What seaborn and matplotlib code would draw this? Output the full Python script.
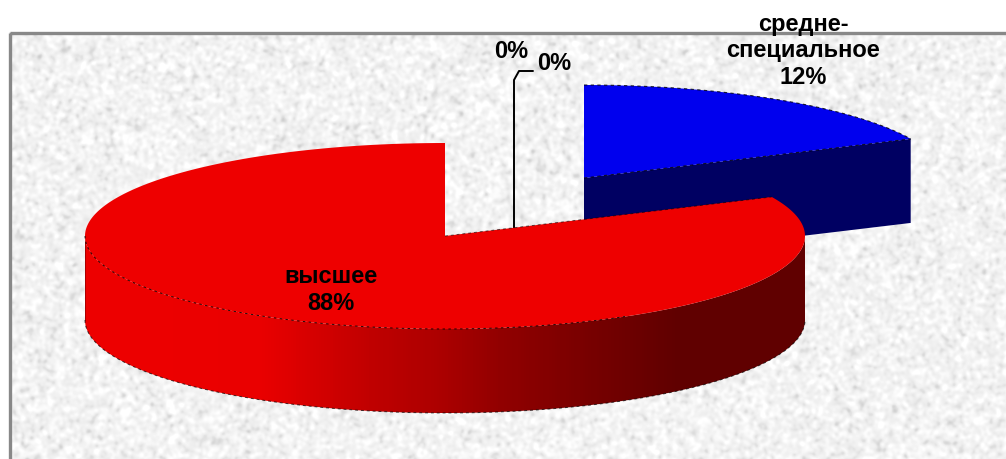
import numpy as np
import matplotlib
matplotlib.use("Agg")
import matplotlib.pyplot as plt
from matplotlib.colors import LinearSegmentedColormap
from matplotlib.patches import Polygon, Rectangle
import seaborn as sns

# Data
categories = ["высшее", "средне-\nспециальное", "", ""]
printed_percent = [88, 12, 0, 0]
# Angular share each slice occupies in the drawing (the source picture's geometry,
# which differs from its printed percentages)
drawn_share = [81.9, 18.1, 0, 0]

palette = sns.color_palette(["#EE0000", "#0000EE"])
side_blue = "#000062"

sns.set_theme(style="white")
plt.rcParams["font.family"] = ["Liberation Sans", "DejaVu Sans"]

W, H = 1006, 459
fig = plt.figure(figsize=(W / 100, H / 100), dpi=100, facecolor="white")
ax = fig.add_axes([0, 0, 1, 1])
ax.set_axis_off()

# Textured backdrop
rng = np.random.default_rng(7)
fx, fy = 9, 32
h, w = H - fy, W - fx
noise = rng.normal(size=(h, w))
ky = np.fft.fftfreq(h)[:, None]
kx = np.fft.rfftfreq(w)[None, :]
noise = np.fft.irfft2(np.fft.rfft2(noise) * np.exp(-(kx**2 + ky**2) * 2 * (np.pi * 1.7) ** 2), s=(h, w))
noise = noise / noise.std()
tex = np.clip(0.950 + 0.024 * noise - 0.02 * np.clip(-noise - 1.2, 0, None), 0.72, 1.0)
ax.imshow(tex, cmap="gray", vmin=0, vmax=1, extent=(fx, W, H, fy), interpolation="bilinear", zorder=0, aspect="auto")
ax.add_patch(Rectangle((fx + 1, fy + 1), W, H, fill=False, ec="#888888", lw=2.4, zorder=1))

RX, RY, DEPTH = 360, 93, 84
red_c = (445, 236)
blue_c = (584, 178)


def arc(center, a0, a1, n=400):
    t = np.radians(np.linspace(a0, a1, n))
    return center[0] + RX * np.cos(t), center[1] - RY * np.sin(t)


# Slice angles come from the shares, starting at 12 o'clock, counter-clockwise for red
red_sweep = drawn_share[0] / sum(drawn_share) * 360
blue_sweep = drawn_share[1] / sum(drawn_share) * 360
red_end = 90 + red_sweep
blue_end = 90 - blue_sweep

# Blue slice
bx, by = arc(blue_c, 90, blue_end)
ax.fill([blue_c[0], bx[-1], bx[-1], blue_c[0]],
        [blue_c[1], by[-1], by[-1] + DEPTH, blue_c[1] + DEPTH], color=side_blue, lw=0, zorder=2)
ax.fill(np.r_[blue_c[0], bx], np.r_[blue_c[1], by], color=palette[1], lw=0, zorder=3)
ax.plot(bx, by, color="black", lw=0.8, ls=(0, (3, 3)), alpha=0.8, zorder=3.1)
ax.plot([blue_c[0], bx[-1]], [blue_c[1], by[-1]], color="black", lw=0.8, ls=(0, (3, 3)), alpha=0.8, zorder=3.1)

# Leader line for the 0 % slices
ax.plot([514, 514, 519, 533], [228, 80, 71, 71], color="black", lw=1.4, zorder=2.5, solid_joinstyle="round")

# Red side wall with gradient
sx, sy = arc(red_c, 180, 360)
side = np.c_[np.r_[sx, sx[::-1]], np.r_[sy, sy[::-1] + DEPTH]]
stops = [(85, "#EE0000"), (260, "#EA0000"), (370, "#C00000"), (440, "#AC0000"),
         (500, "#920000"), (600, "#750000"), (680, "#600000"), (805, "#600000")]
cmap = LinearSegmentedColormap.from_list("wall", [((x - 85) / 720, c) for x, c in stops])
im = ax.imshow(np.linspace(0, 1, 720)[None, :], cmap=cmap, aspect="auto",
               extent=(85, 805, 425, 230), zorder=4)
im.set_clip_path(Polygon(side, closed=True, transform=ax.transData))
ox, oy = arc(red_c, 180, 360)
ax.plot(ox, oy + DEPTH, color="black", lw=0.7, ls=(0, (3, 3)), alpha=0.7, zorder=4.1)
ax.plot([red_c[0] - RX] * 2, [red_c[1], red_c[1] + DEPTH], color="black", lw=0.5, alpha=0.4, zorder=4.1)

# Red top
rx, ry = arc(red_c, 90, red_end)
ax.fill(np.r_[red_c[0], rx], np.r_[red_c[1], ry], color=palette[0], lw=0, zorder=5)
fx_, fy_ = arc(red_c, 180, 300)
ax.plot(fx_, fy_, color="black", lw=0.7, ls=(0, (2.5, 3.5)), alpha=0.85, zorder=5.1)
ax.plot([red_c[0], rx[-1]], [red_c[1], ry[-1]], color="black", lw=0.7, ls=(0, (3, 3)), alpha=0.6, zorder=5.1)

# Labels
fs = 17
ax.text(331, 290, f"{categories[0]}\n{printed_percent[0]}%", ha="center", va="center",
        fontsize=fs, fontweight="bold", color="black", linespacing=1.19, zorder=6)
ax.text(803, 51, f"{categories[1]}\n{printed_percent[1]}%", ha="center", va="center",
        fontsize=fs, fontweight="bold", color="black", linespacing=1.19, zorder=6)
ax.text(511, 52, f"{printed_percent[2]}%", ha="center", va="center", fontsize=fs, fontweight="bold", color="black", zorder=6)
ax.text(554, 64, f"{printed_percent[3]}%", ha="center", va="center", fontsize=fs, fontweight="bold", color="black", zorder=6)

ax.set_xlim(0, W)
ax.set_ylim(H, 0)
fig.savefig("out.png", dpi=100, facecolor="white")
